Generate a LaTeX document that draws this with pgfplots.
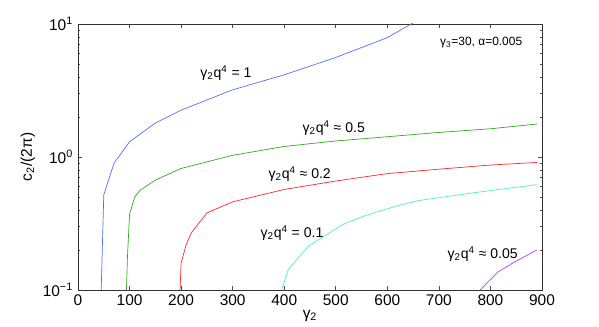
\documentclass[border=0pt]{standalone}
\usepackage{fontspec}
\setmainfont{Liberation Sans}
\usepackage{pgfplots}
\pgfplotsset{compat=1.18}
\definecolor{cblue}{RGB}{85,110,255}
\definecolor{cgreen}{RGB}{50,170,30}
\definecolor{cred}{RGB}{255,40,40}
\definecolor{ccyan}{RGB}{80,240,190}
\definecolor{cpurple}{RGB}{170,70,255}
\begin{document}
\begin{tikzpicture}
\useasboundingbox (-19.5mm,-9.25mm) rectangle (130.25mm,72.5mm);
\begin{axis}[
  at={(0,0)}, anchor=south west,
  scale only axis, width=116mm, height=66.5mm,
  ymode=log, xmin=0, xmax=900, ymin=0.1, ymax=10,
  xtick={0,100,...,900},
  ytick={0.1,1,10},
  yticklabels={{10\textsuperscript{−1}},{10\textsuperscript{0}},{10\textsuperscript{1}}},
  /pgf/number format/assume math mode=true,
  tick align=inside,
  major tick length=0.9mm, minor tick length=0.5mm,
  tick label style={font=\fontsize{11}{12}\selectfont},
  axis line style={black!80, line width=0.6pt},
  tick style={black!70, line width=0.4pt},
  every axis y label/.style={at={(axis description cs:-0.108,0.5)},rotate=90,anchor=center},
  every axis x label/.style={at={(axis description cs:0.5,-0.098)},anchor=center},
  xlabel={γ\textsubscript{2}},
  ylabel={c\textsubscript{2}/(2π)},
  label style={font=\fontsize{11}{12}\selectfont},
  every axis plot/.append style={line width=0.5pt},
]
\addplot[cblue] coordinates {
 (45,0.1)(50,0.52)(70,0.9)(100,1.3)(150,1.8)(200,2.25)(300,3.2)(400,4.15)(500,5.6)(600,7.9)(650,10.2)};
\addplot[cgreen] coordinates {
 (94,0.1)(96,0.18)(100,0.37)(110,0.5)(120,0.56)(150,0.67)(200,0.82)(300,1.03)(400,1.2)(500,1.32)(600,1.42)(700,1.53)(800,1.63)(890,1.77)};
\addplot[cred] coordinates {
 (198,0.1)(200,0.16)(210,0.22)(220,0.27)(250,0.38)(300,0.46)(400,0.57)(500,0.66)(600,0.75)(700,0.81)(800,0.87)(890,0.91)};
\addplot[ccyan] coordinates {
 (395,0.1)(408,0.143)(447,0.214)(515,0.313)(560,0.366)(620,0.43)(660,0.47)(770,0.54)(890,0.62)};
\addplot[cpurple] coordinates {
 (780,0.1)(815,0.137)(850,0.165)(890,0.2)};
\node[font=\fontsize{10}{12}\selectfont] at (axis cs:287,4.28) {γ\textsubscript{2}q\textsuperscript{4} = 1};
\node[font=\fontsize{10}{12}\selectfont] at (axis cs:496,1.65) {γ\textsubscript{2}q\textsuperscript{4} ≈ 0.5};
\node[font=\fontsize{10}{12}\selectfont] at (axis cs:430,0.745) {γ\textsubscript{2}q\textsuperscript{4} ≈ 0.2};
\node[font=\fontsize{10}{12}\selectfont] at (axis cs:415,0.269) {γ\textsubscript{2}q\textsuperscript{4} = 0.1};
\node[font=\fontsize{10}{12}\selectfont] at (axis cs:785,0.187) {γ\textsubscript{2}q\textsuperscript{4} ≈ 0.05};
\node[font=\fontsize{8.5}{10}\selectfont] at (axis cs:782,7.2) {γ\textsubscript{3}=30, α=0.005};
\end{axis}
\end{tikzpicture}
\end{document}
